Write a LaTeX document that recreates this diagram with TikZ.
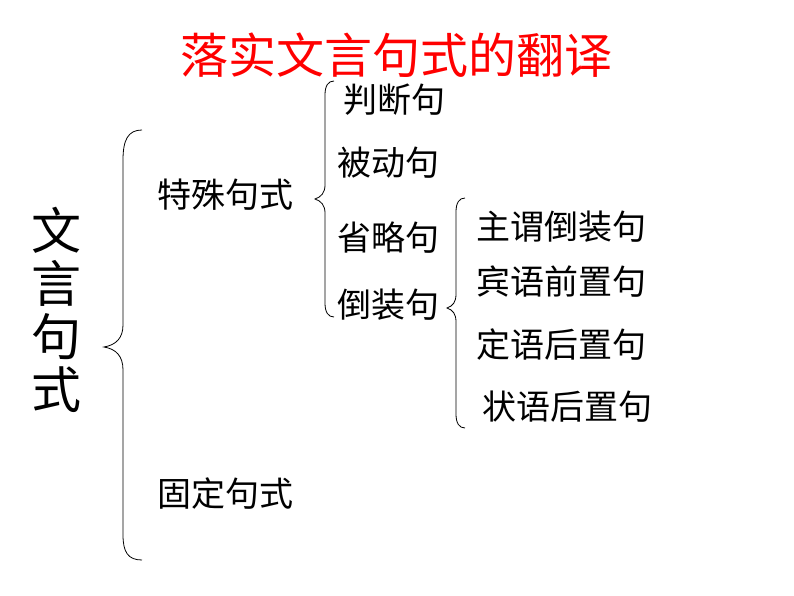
\documentclass[tikz,border=0pt]{standalone}
\usepackage{fontspec}
\setmainfont{Noto Sans CJK SC}
\begin{document}
\begin{tikzpicture}[x=1pt,y=-1pt,
  item/.style={anchor=west,inner sep=0pt,font=\fontsize{34}{34}\selectfont},
  bracepath/.style={draw=black,line width=0.8pt}]
\useasboundingbox (0,0) rectangle (794,596);
\fill[white] (0,0) rectangle (794,596);
\node[inner sep=0pt,text=red,font=\fontsize{48}{48}\selectfont] (title) at (396,55) {落实文言句式的翻译};
\node[inner sep=0pt,align=center,font=\fontsize{50}{53}\selectfont] (root) at (56,310) {文\\言\\句\\式};
% big brace
\draw[bracepath] (142,130) .. controls (128,130) and (123,140) .. (123,160) -- (123,325) .. controls (123,338) and (116,345) .. (104,347) .. controls (116,349) and (123,356) .. (123,370) -- (123,535) .. controls (123,552) and (128,560) .. (142,560);
\node[item] (tszs) at (157,195) {特殊句式};
\node[item] (gdjs) at (157,494) {固定句式};
% brace 2
\draw[bracepath] (334,81) .. controls (328,81) and (325,86) .. (325,95) -- (325,185) .. controls (325,193) and (321,197) .. (315,199) .. controls (321,201) and (325,205) .. (325,213) -- (325,303) .. controls (325,312) and (328,317) .. (334,317);
\node[item] (pdj) at (343,100) {判断句};
\node[item] (bdj) at (337,163) {被动句};
\node[item] (slj) at (337,238) {省略句};
\node[item] (dzj) at (337,305) {倒装句};
% brace 3
\draw[bracepath] (465,198) .. controls (459,198) and (456,203) .. (456,212) -- (456,294) .. controls (456,302) and (453,306) .. (447,308) .. controls (453,310) and (456,314) .. (456,322) -- (456,414) .. controls (456,423) and (459,428) .. (465,428);
\node[item] (zw) at (476,227) {主谓倒装句};
\node[item] (by) at (476,282) {宾语前置句};
\node[item] (dy) at (476,345) {定语后置句};
\node[item] (zy) at (482,407) {状语后置句};
\end{tikzpicture}
\end{document}
